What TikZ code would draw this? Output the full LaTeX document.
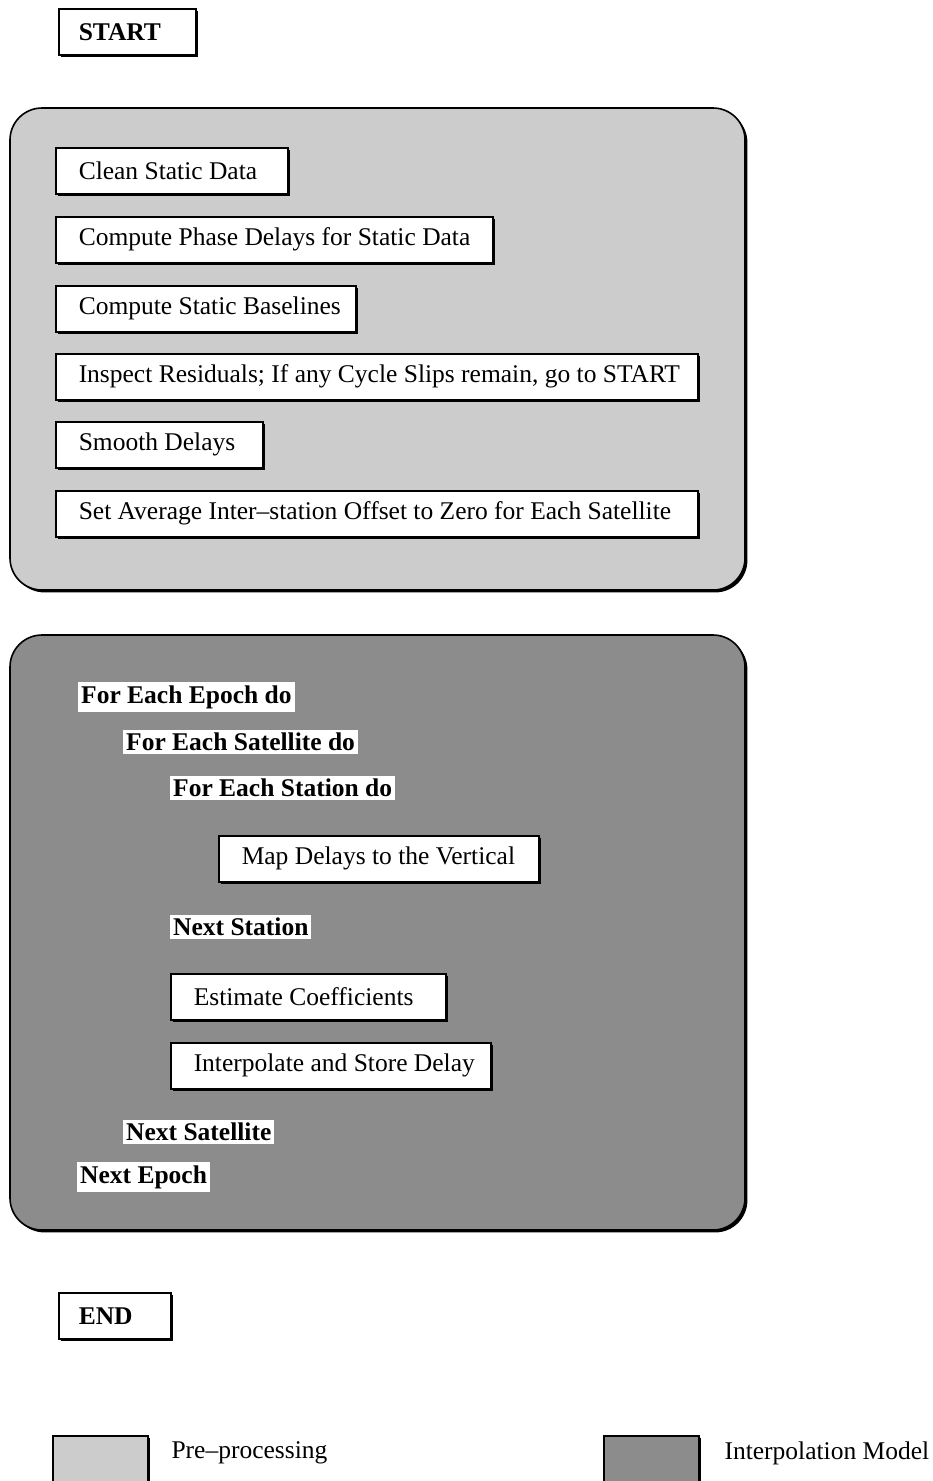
\documentclass[tikz,border=0pt]{standalone}
\usepackage{fontspec}
\setmainfont{Liberation Serif}
\usetikzlibrary{positioning, shadows}
\newcommand{\flowfont}{\fontsize{25.5pt}{30pt}\selectfont}
\tikzset{
  boxshadow/.style={drop shadow={shadow xshift=2.4pt, shadow yshift=-2.4pt,
      fill=black, opacity=1}},
  stepbox/.style={draw, line width=1.5pt, fill=white, anchor=north west,
      minimum height=46pt, inner xsep=23pt, inner ysep=0pt, font=\flowfont,
      boxshadow},
  looplabel/.style={fill=white, anchor=west, inner xsep=3pt, inner ysep=3pt,
      font=\flowfont\bfseries},
  panel/.style={draw, line width=1.6pt, rounded corners=32pt, boxshadow},
  keybox/.style={draw, line width=1.5pt, anchor=north west, minimum width=95pt,
      minimum height=60pt, boxshadow},
}

\begin{document}
\begin{tikzpicture}[x=1pt, y=-1pt, font=\flowfont]
  \clip (0,0) rectangle (933,1481);

  \node[stepbox, inner xsep=20pt, font=\flowfont\bfseries] (start) at (58,8)
       {\makebox[97pt][l]{START}};

  % pre-processing block
  \draw[panel, fill=black!20] (10,108) rectangle (745,590);
  \foreach \n/\y/\w/\t in
    {clean/147/186/Clean Static Data,
     phase/216/391/Compute Phase Delays for Static Data,
     base/285/254/Compute Static Baselines,
     inspect/353/596/{Inspect Residuals; If any Cycle Slips remain, go to START},
     smooth/421/161/Smooth Delays,
     offset/490/596/Set Average Inter–station Offset to Zero for Each Satellite}
  {
    \node[stepbox] (\n) at (55,\y) {\makebox[\w pt][l]{\t}};
  }

  % interpolation model block
  \draw[panel, fill=black!45] (10,635) rectangle (745,1230);
  \node[looplabel] (epoch) at (78,697) {For Each Epoch do};
  \node[looplabel] (sat) at (123,742) {For Each Satellite do};
  \node[looplabel] (station) at (170,788) {For Each Station do};
  \node[stepbox] (map) at (218,835) {\makebox[274pt][l]{Map Delays to the Vertical}};
  \node[looplabel] (nextstation) at (170,927) {Next Station};
  \node[stepbox] (coef) at (170,973) {\makebox[229pt][l]{Estimate Coefficients}};
  \node[stepbox] (interp) at (170,1042) {\makebox[274pt][l]{Interpolate and Store Delay}};
  \node[looplabel] (nextsat) at (123,1132) {Next Satellite};
  \node[looplabel] (nextepoch) at (77,1177) {Next Epoch};

  \node[stepbox, inner xsep=20pt, font=\flowfont\bfseries] (end) at (58,1292)
       {\makebox[72pt][l]{END}};

  % legend
  \node[keybox, fill=black!20] (keypre) at (52,1435) {};
  \node[anchor=west] (keypretext) at (168,1453) {Pre–processing};
  \node[keybox, fill=black!45] (keyint) at (603,1435) {};
  \node[anchor=west] (keyinttext) at (721,1453) {Interpolation Model};
\end{tikzpicture}
\end{document}
